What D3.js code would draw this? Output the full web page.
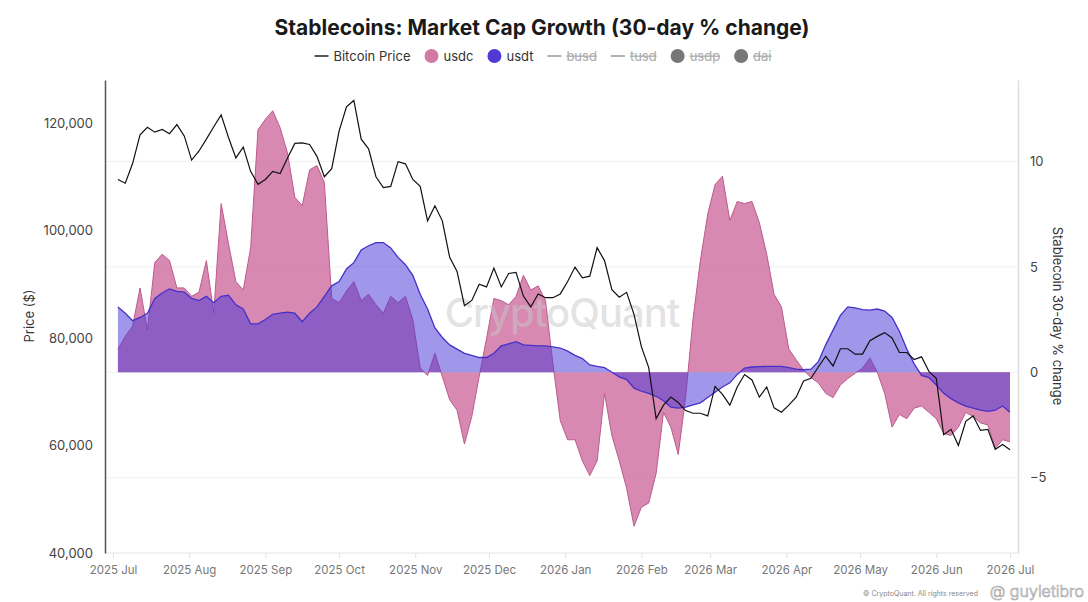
<!DOCTYPE html>
<html>
<head>
<meta charset="utf-8">
<script src="https://cdn.jsdelivr.net/npm/d3@7"></script>
<style>
  html, body { margin: 0; padding: 0; background: #fff; }
  svg { display: block; font-family: Inter, "Noto Sans", sans-serif; }
</style>
</head>
<body>
<svg id="chart" width="1088" height="602"></svg>
<script>
// ---- Data (one sample every 3 days, starting 2025-07-03) ----
const START = new Date(2025, 6, 3);
const STEP_DAYS = 3;

// Bitcoin price, thousands of USD
const btcPrice = [
  109.5, 108.8, 112.5, 117.8, 119.2, 118.3, 118.8, 118.0, 119.7, 117.6,
  113.1, 114.8, 117.0, 119.3, 121.5, 117.3, 113.5, 115.5, 111.0, 108.6,
  109.5, 111.0, 110.6, 113.5, 116.2, 116.3, 116.0, 113.8, 110.0, 111.5,
  118.5, 123.0, 124.2, 117.0, 115.2, 110.0, 108.0, 108.2, 112.8, 112.4,
  109.5, 108.2, 101.8, 104.6, 101.8, 95.0, 92.4, 86.0, 87.0, 90.0,
  89.5, 93.0, 89.5, 92.0, 92.2, 87.8, 85.8, 88.2, 87.5, 87.5,
  88.2, 90.5, 93.2, 91.2, 91.5, 96.8, 94.4, 89.0, 87.6, 88.5,
  84.4, 78.4, 74.5, 65.0, 67.5, 69.0, 68.0, 66.5, 66.0, 66.0,
  65.5, 71.0, 69.5, 67.5, 70.9, 73.2, 72.2, 69.0, 70.9, 67.0,
  66.2, 67.5, 69.0, 72.0, 72.5, 74.6, 76.6, 74.8, 78.0, 78.0,
  77.0, 77.0, 79.5, 80.3, 81.0, 80.0, 77.3, 77.3, 76.0, 76.5,
  73.8, 72.5, 62.0, 63.0, 60.0, 64.5, 65.5, 62.8, 63.0, 59.3,
  60.2, 59.2
];

// USDC market cap, 30-day % change
const usdcChange = [
  1.1, 1.7, 2.2, 4.0, 2.0, 5.2, 5.6, 5.3, 4.0, 4.0,
  3.6, 3.8, 5.3, 2.8, 8.0, 6.1, 4.3, 3.9, 5.9, 11.5,
  12.0, 12.4, 11.6, 10.4, 8.3, 7.9, 9.6, 9.8, 9.0, 3.5,
  3.3, 3.85, 4.3, 3.4, 3.7, 3.2, 2.8, 3.6, 3.3, 3.6,
  2.5, 0.2, -0.15, 0.9, -0.2, -1.3, -1.8, -3.4, -2.1, -0.2,
  1.6, 3.5, 3.4, 3.2, 3.6, 4.6, 3.9, 4.1, 3.4, 0.4,
  -2.3, -3.2, -3.2, -4.2, -4.9, -4.2, -1.0, -3.0, -4.2, -5.5,
  -7.3, -6.4, -6.2, -4.8, -1.9, -2.6, -3.9, -1.2, 2.5, 5.3,
  7.5, 8.9, 9.3, 7.2, 8.1, 8.0, 8.1, 7.1, 5.6, 3.7,
  3.1, 1.1, 0.6, 0.1, -0.25, -0.5, -1.0, -1.2, -0.6, -0.3,
  -0.05, 0.2, 0.68, 0.0, -1.0, -2.6, -2.0, -2.2, -1.7, -1.6,
  -1.9, -2.2, -2.9, -3.0, -2.6, -1.9, -2.1, -2.4, -2.5, -3.6,
  -3.2, -3.3
];

// USDT market cap, 30-day % change
const usdtChange = [
  3.1, 2.8, 2.45, 2.6, 2.8, 3.5, 3.76, 3.95, 3.84, 3.8,
  3.5, 3.4, 3.6, 3.3, 3.6, 3.65, 3.2, 3.0, 2.3, 2.3,
  2.5, 2.75, 2.8, 2.85, 2.8, 2.4, 2.8, 3.1, 3.6, 4.1,
  4.3, 4.9, 5.2, 5.8, 6.0, 6.15, 6.15, 5.9, 5.45, 5.1,
  4.6, 3.7, 3.0, 2.1, 1.65, 1.3, 1.1, 0.9, 0.8, 0.7,
  0.7, 0.9, 1.25, 1.35, 1.45, 1.3, 1.28, 1.25, 1.25, 1.2,
  1.15, 1.0, 0.8, 0.65, 0.35, 0.28, 0.22, 0.0, -0.22, -0.35,
  -0.75, -0.9, -1.0, -1.14, -1.35, -1.65, -1.7, -1.65, -1.55, -1.45,
  -1.2, -0.95, -0.7, -0.5, -0.1, 0.2, 0.25, 0.27, 0.28, 0.28,
  0.28, 0.22, 0.15, 0.12, 0.15, 0.5, 1.3, 2.0, 2.7, 3.1,
  3.05, 2.97, 2.95, 3.0, 2.9, 2.6, 1.95, 1.1, 0.4, -0.15,
  -0.25, -0.6, -1.0, -1.25, -1.45, -1.6, -1.7, -1.8, -1.85, -1.8,
  -1.6, -1.9
];

const priceTicks = [40000, 60000, 80000, 100000, 120000];
const pctTicks = [-5, 0, 5, 10];

const legendItems = [
  { name: "Bitcoin Price", kind: "line", color: "#222", on: true },
  { name: "usdc", kind: "dot", color: "#d27aa5", on: true },
  { name: "usdt", kind: "dot", color: "#4f3ad8", on: true },
  { name: "busd", kind: "line", color: "#999", on: false },
  { name: "tusd", kind: "line", color: "#999", on: false },
  { name: "usdp", kind: "dot", color: "#777", on: false },
  { name: "dai", kind: "dot", color: "#777", on: false }
];

const rows = btcPrice.map((p, i) => ({
  date: d3.timeDay.offset(START, i * STEP_DAYS),
  btc: p * 1000,
  usdc: usdcChange[i],
  usdt: usdtChange[i]
}));

// ---- Layout ----
const svg = d3.select("#chart");
const plot = { left: 105, right: 1018, top: 80, bottom: 553 };

const x = d3.scaleTime()
  .domain([new Date(2025, 6, 1), new Date(2026, 6, 1)])
  .range([113, 1010]);

const yPrice = d3.scaleLinear()
  .domain([40000, 128000])
  .range([plot.bottom, plot.top]);

const yPct = d3.scaleLinear()
  .domain([-8.57, 13.86])
  .range([plot.bottom, plot.top]);

// ---- Grid ----
svg.append("g")
  .selectAll("line")
  .data(pctTicks)
  .join("line")
  .attr("x1", plot.left).attr("x2", plot.right)
  .attr("y1", d => yPct(d)).attr("y2", d => yPct(d))
  .attr("stroke", "#f0f0f0");

svg.append("line")
  .attr("x1", plot.left).attr("x2", plot.right)
  .attr("y1", plot.bottom).attr("y2", plot.bottom)
  .attr("stroke", "#e6e6e6");

// ---- Areas ----
const area = key => d3.area()
  .x(d => x(d.date))
  .y0(yPct(0))
  .y1(d => yPct(d[key]));

const line = key => d3.line()
  .x(d => x(d.date))
  .y(d => yPct(d[key]));

svg.append("path")
  .datum(rows)
  .attr("d", area("usdc"))
  .attr("fill", "rgb(202,100,153)")
  .attr("fill-opacity", 0.76);

svg.append("path")
  .datum(rows)
  .attr("d", line("usdc"))
  .attr("fill", "none")
  .attr("stroke", "rgb(190,90,140)")
  .attr("stroke-width", 1);

svg.append("path")
  .datum(rows)
  .attr("d", area("usdt"))
  .attr("fill", "rgb(75,55,215)")
  .attr("fill-opacity", 0.52);

svg.append("path")
  .datum(rows)
  .attr("d", line("usdt"))
  .attr("fill", "none")
  .attr("stroke", "rgb(70,48,200)")
  .attr("stroke-width", 1.3);

// ---- Watermark ----
svg.append("text")
  .attr("x", 562).attr("y", 327)
  .attr("text-anchor", "middle")
  .style("font-size", "40px")
  .style("font-weight", 500)
  .style("letter-spacing", "-1px")
  .attr("fill", "#c8c8c8")
  .attr("fill-opacity", 0.5)
  .text("CryptoQuant");

// ---- Bitcoin line ----
svg.append("path")
  .datum(rows)
  .attr("d", d3.line().x(d => x(d.date)).y(d => yPrice(d.btc)))
  .attr("fill", "none")
  .attr("stroke", "#111")
  .attr("stroke-width", 1.2);

// ---- Axes ----
const left = svg.append("g")
  .attr("transform", `translate(${plot.left},0)`)
  .call(d3.axisLeft(yPrice).tickValues(priceTicks).tickSize(0).tickPadding(12)
    .tickFormat(d3.format(",")));
left.select(".domain").attr("stroke", "#555").attr("stroke-width", 1.5);
left.selectAll("text").style("font-size", "13px").attr("fill", "#444")
  .style("font-family", "Inter, sans-serif");

const right = svg.append("g")
  .attr("transform", `translate(${plot.right},0)`)
  .call(d3.axisRight(yPct).tickValues(pctTicks).tickSize(0).tickPadding(12));
right.select(".domain").attr("stroke", "#ddd").attr("stroke-width", 1.5);
right.selectAll("text").style("font-size", "13px").attr("fill", "#444")
  .style("font-family", "Inter, sans-serif");

const bottom = svg.append("g")
  .attr("transform", `translate(0,${plot.bottom})`)
  .call(d3.axisBottom(x).ticks(d3.timeMonth.every(1)).tickSize(5).tickPadding(8)
    .tickFormat(d3.timeFormat("%Y %b")));
bottom.select(".domain").remove();
bottom.selectAll("line").attr("stroke", "#e2e2e2");
bottom.selectAll("text").style("font-size", "11.5px").attr("fill", "#777")
  .style("font-family", "Inter, sans-serif");

svg.append("text")
  .attr("transform", "translate(34,316) rotate(-90)")
  .attr("text-anchor", "middle")
  .style("font-size", "13px").attr("fill", "#333")
  .text("Price ($)");

svg.append("text")
  .attr("transform", "translate(1053,316) rotate(90)")
  .attr("text-anchor", "middle")
  .style("font-size", "13px").attr("fill", "#333")
  .text("Stablecoin 30-day % change");

// ---- Title ----
svg.append("text")
  .attr("x", 542).attr("y", 35)
  .attr("text-anchor", "middle")
  .style("font-size", "21px").style("font-weight", 700).attr("fill", "#1a1a1a")
  .text("Stablecoins: Market Cap Growth (30-day % change)");

// ---- Legend ----
const legend = svg.append("g").attr("transform", "translate(0,56)");
let cx = 0;
const items = legend.selectAll("g.item")
  .data(legendItems)
  .join("g")
  .attr("class", "item");

items.each(function (d) {
  const g = d3.select(this);
  g.attr("transform", `translate(${cx},0)`);
  if (d.kind === "line") {
    g.append("line").attr("x1", 0).attr("x2", 14).attr("y1", 0).attr("y2", 0)
      .attr("stroke", d.color).attr("stroke-width", 1.5);
  } else {
    g.append("circle").attr("cx", 7).attr("cy", 0).attr("r", 7).attr("fill", d.color);
  }
  const t = g.append("text")
    .attr("x", 19).attr("y", 4.5)
    .style("font-size", "13px")
    .attr("fill", d.on ? "#333" : "#aaa")
    .style("text-decoration", d.on ? null : "line-through")
    .text(d.name);
  cx += 19 + t.node().getComputedTextLength() + 14;
});
const legendWidth = cx - 14;
legend.attr("transform", `translate(${543 - legendWidth / 2},56)`);

// ---- Credits (kept below the month labels, side by side) ----
svg.append("text")
  .attr("x", 1084).attr("y", 597)
  .attr("text-anchor", "end")
  .style("font-size", "16px").style("font-weight", 300)
  .attr("fill", "#fff").attr("stroke", "#aaa").attr("stroke-width", 0.7)
  .text("@ guyletibro");

svg.append("text")
  .attr("x", 978).attr("y", 596)
  .attr("text-anchor", "end")
  .style("font-size", "7px").attr("fill", "#888")
  .text("© CryptoQuant. All rights reserved");
</script>
</body>
</html>
